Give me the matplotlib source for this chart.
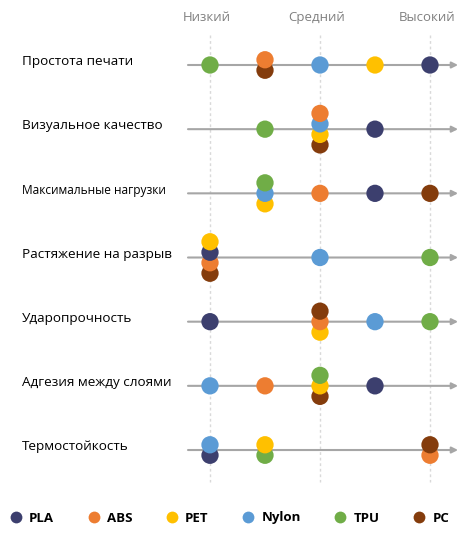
import matplotlib
matplotlib.use("Agg")
import matplotlib.pyplot as plt
from matplotlib.lines import Line2D
from matplotlib.transforms import blended_transform_factory

plt.rcParams['font.family'] = ['Open Sans', 'DejaVu Sans']

categories = ["Простота печати", "Визуальное качество", "Максимальные нагрузки",
              "Растяжение на разрыв", "Ударопрочность", "Адгезия между слоями",
              "Термостойкость"]
level_labels = ["Низкий", "Средний", "Высокий"]
level_values = [1, 3, 5]

series_names = ["PLA", "ABS", "PET", "Nylon", "TPU", "PC"]
series_colors = ["#3C3F6E", "#ED7D31", "#FFC000", "#5B9BD5", "#70AD47", "#843C0C"]

# score (1..5) per category
PLA   = [5, 4, 4, 1, 1, 4, 1]
ABS   = [2, 3, 3, 1, 3, 2, 5]
PET   = [4, 3, 2, 1, 3, 3, 2]
Nylon = [3, 3, 2, 3, 4, 1, 1]
TPU   = [1, 2, 2, 5, 5, 3, 2]
PC    = [2, 3, 5, 1, 3, 3, 5]
values = [PLA, ABS, PET, Nylon, TPU, PC]

# stacking rank within overlapping groups (0 = top)
PLA_rank   = [0, 0, 0, 1, 0, 0, 1]
ABS_rank   = [0, 0, 0, 2, 1, 0, 1]
PET_rank   = [0, 2, 2, 0, 2, 1, 0]
Nylon_rank = [0, 1, 1, 0, 0, 0, 0]
TPU_rank   = [0, 0, 0, 0, 0, 0, 1]
PC_rank    = [1, 3, 0, 3, 0, 2, 0]
ranks = [PLA_rank, ABS_rank, PET_rank, Nylon_rank, TPU_rank, PC_rank]

W, H = 466, 539
fig = plt.figure(figsize=(W / 100, H / 100), dpi=100)
ax = fig.add_axes([0, 0, 1, 1])
ax.axis('off')

px_x = 55.0      # pixels per level unit
px_y = 64.17     # pixels per row
x0_px, y0_px = 210, 65
ax.set_xlim(1 - x0_px / px_x, 5 + (W - 430) / px_x)
ax.set_ylim((H - y0_px) / px_y, -y0_px / px_y)

n_rows = len(categories)

# vertical dotted guides
for lv in level_values:
    ax.plot([lv, lv], [-0.47, n_rows - 0.5], color="#D9D9D9", lw=1,
            ls=(0, (2, 2)), zorder=0)

# header labels
for lv, lab in zip(level_values, level_labels):
    ax.text(lv - 0.06, -0.74, lab, ha='center', va='center', fontsize=9.5,
            color="#808080")

# arrow lines
for r in range(n_rows):
    ax.annotate('', xy=(5.51, r), xytext=(0.6, r),
                arrowprops=dict(arrowstyle='-|>', color="#A6A6A6", lw=1.5,
                                mutation_scale=9, shrinkA=0, shrinkB=0),
                zorder=1)

# category labels
trans = blended_transform_factory(fig.transFigure, ax.transData)
for r, cat in enumerate(categories):
    fs = 8.6 if cat.startswith("Макс") else 9.7
    ax.text(22 / W, r - 0.05, cat, transform=trans, ha='left', va='center',
            fontsize=fs, color="black")

# dots
step = 10.5 / px_y
for s, (vals, rk, col) in enumerate(zip(values, ranks, series_colors)):
    for r in range(n_rows):
        v = vals[r]
        n = sum(1 for vv in values if vv[r] == v)
        off = (rk[r] - (n - 1) / 2) * step
        ax.scatter([v], [r + off], s=155, color=col, edgecolors='none',
                   zorder=10 - rk[r])

# legend
handles = [Line2D([], [], marker='o', ls='none', markersize=8.5,
                  markerfacecolor=c, markeredgecolor='none') for c in series_colors]
fig.legend(handles, series_names, loc='center',
           bbox_to_anchor=(0.5 - 3 / W, 1 - 518 / H),
           ncol=6, frameon=False, handlelength=0.8, handletextpad=0.6,
           columnspacing=2.6, prop={'weight': 'bold', 'size': 9.5})

fig.savefig("out.png", dpi=100)
